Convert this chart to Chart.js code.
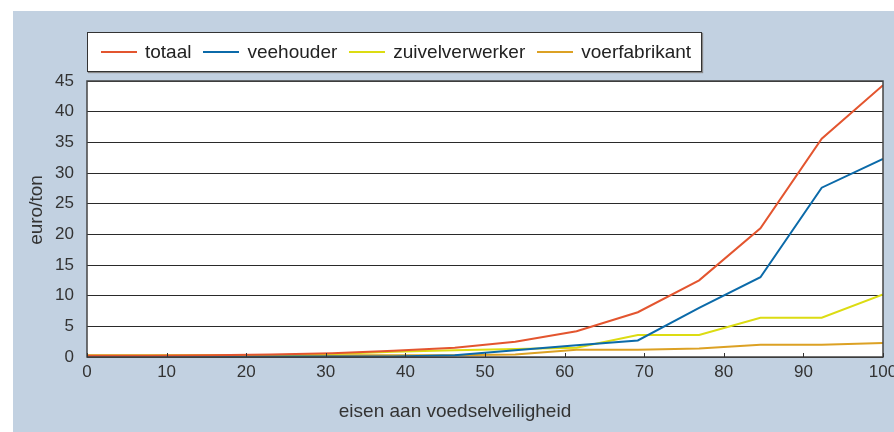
<!DOCTYPE html>
<html>
<head>
<meta charset="utf-8">
<script src="https://cdn.jsdelivr.net/npm/chart.js@4.4.0/dist/chart.umd.min.js"></script>
<style>
  body { margin: 0; background: #fff; width: 894px; height: 432px; overflow: hidden; font-family: "Liberation Sans", Arial, sans-serif; }
  #panel { position: absolute; left: 13px; top: 11px; width: 881px; height: 421px; background: #c2d1e1; }
  #legend { position: absolute; left: 87px; top: 32px; width: 600px; height: 38px; background: #fff;
            border: 1px solid #333; box-shadow: 1px 1px 1px #888; display: flex; align-items: center;
            padding-left: 13px; box-sizing: content-box; }
  #legend .item { display: flex; align-items: center; margin-right: 12px; font-size: 19px; color: #222; }
  #legend .line { width: 36px; height: 2px; margin-right: 8px; }
</style>
</head>
<body>
<div id="panel"><canvas id="chart" width="881" height="421"></canvas></div>
<div id="legend"></div>
<script>
// eisen aan voedselveiligheid (x) and costs in euro/ton (y)
let xValues = [0, 7.7, 15.4, 23.1, 30.8, 38.5, 46.2, 53.8, 61.5, 69.2, 76.9, 84.6, 92.3, 100];
let totaal = [0.2, 0.2, 0.3, 0.4, 0.6, 1.0, 1.5, 2.5, 4.2, 7.3, 12.5, 21.0, 35.6, 44.3];
let veehouder = [0.05, 0.05, 0.05, 0.1, 0.1, 0.1, 0.3, 1.1, 1.9, 2.7, 8.0, 13.0, 27.6, 32.3];
let zuivelverwerker = [0.2, 0.2, 0.25, 0.3, 0.5, 0.85, 1.1, 1.3, 1.5, 3.6, 3.6, 6.4, 6.4, 10.2];
let voerfabrikant = [0.3, 0.3, 0.3, 0.3, 0.3, 0.3, 0.3, 0.4, 1.2, 1.2, 1.4, 2.0, 2.0, 2.3];

let seriesNames = ['totaal', 'veehouder', 'zuivelverwerker', 'voerfabrikant'];
let seriesColors = ['#e3552f', '#0b6aa9', '#dcdc12', '#dca124'];
let xTicks = [0, 10, 20, 30, 40, 50, 60, 70, 80, 90, 100];
let yTicks = [0, 5, 10, 15, 20, 25, 30, 35, 40, 45];

let xTitle = 'eisen aan voedselveiligheid';
let yTitle = 'euro/ton';

function toPoints(values) {
    return values.map((v, i) => ({ x: xValues[i], y: v }));
}

let allSeries = [totaal, veehouder, zuivelverwerker, voerfabrikant];
let datasets = allSeries.map((values, i) => ({
    label: seriesNames[i],
    data: toPoints(values),
    borderColor: seriesColors[i],
    backgroundColor: seriesColors[i],
    borderWidth: 2,
    pointRadius: 0,
    tension: 0,
    order: i
}));

// white plot area, frame, small inward ticks and axis titles
let framePlugin = {
    id: 'frame',
    beforeDraw(chart) {
        let a = chart.chartArea;
        let ctx = chart.ctx;
        ctx.save();
        ctx.fillStyle = '#fff';
        ctx.fillRect(a.left, a.top, a.right - a.left, a.bottom - a.top);
        ctx.restore();
    },
    afterDatasetsDraw(chart) {
        let a = chart.chartArea;
        let ctx = chart.ctx;
        ctx.save();
        ctx.strokeStyle = '#444';
        ctx.lineWidth = 1.5;
        ctx.strokeRect(a.left, a.top, a.right - a.left, a.bottom - a.top);
        // little tick marks pointing into the plot
        ctx.lineWidth = 1;
        ctx.strokeStyle = '#333';
        let xs = chart.scales.x;
        xTicks.forEach(t => {
            let px = Math.round(xs.getPixelForValue(t)) + 0.5;
            ctx.beginPath();
            ctx.moveTo(px, a.bottom);
            ctx.lineTo(px, a.bottom - 4);
            ctx.stroke();
        });
        // axis titles
        ctx.fillStyle = '#333';
        ctx.font = '19px "Liberation Sans", Arial, sans-serif';
        ctx.textAlign = 'center';
        ctx.textBaseline = 'middle';
        ctx.fillText(xTitle, 442, 401);
        ctx.translate(24, 199);
        ctx.rotate(-Math.PI / 2);
        ctx.fillText(yTitle, 0, 0);
        ctx.restore();
    }
};

var ctx = document.getElementById('chart').getContext('2d');
var chart = new Chart(ctx, {
    type: 'line',
    data: { datasets: datasets },
    options: {
        responsive: false,
        animation: false,
        layout: { padding: { top: 70, right: 11, left: 0, bottom: 0 } },
        plugins: {
            legend: { display: false },
            tooltip: { enabled: false }
        },
        scales: {
            x: {
                type: 'linear',
                min: 0,
                max: 100,
                afterFit(scale) {
                    scale.height = 75;
                    scale.paddingLeft = 0;
                    scale.paddingRight = 0;
                },
                afterBuildTicks(scale) { scale.ticks = xTicks.map(v => ({ value: v })); },
                grid: { display: false, drawTicks: false },
                border: { display: false },
                ticks: {
                    padding: 5,
                    color: '#333',
                    font: { size: 17, family: '"Liberation Sans", Arial, sans-serif' }
                }
            },
            y: {
                min: 0,
                max: 45,
                afterFit(scale) {
                    scale.width = 74;
                    scale.paddingTop = 0;
                    scale.paddingBottom = 0;
                },
                afterBuildTicks(scale) { scale.ticks = yTicks.map(v => ({ value: v })); },
                grid: { color: '#2a2a2a', lineWidth: 1, drawTicks: false },
                border: { display: false },
                ticks: {
                    padding: 13,
                    color: '#333',
                    font: { size: 17, family: '"Liberation Sans", Arial, sans-serif' }
                }
            }
        }
    },
    plugins: [framePlugin]
});

// legend built from the chart's datasets
let legendBox = document.getElementById('legend');
chart.data.datasets.forEach(ds => {
    let item = document.createElement('div');
    item.className = 'item';
    let line = document.createElement('span');
    line.className = 'line';
    line.style.background = ds.borderColor;
    let label = document.createElement('span');
    label.textContent = ds.label;
    item.appendChild(line);
    item.appendChild(label);
    legendBox.appendChild(item);
});
</script>
</body>
</html>
